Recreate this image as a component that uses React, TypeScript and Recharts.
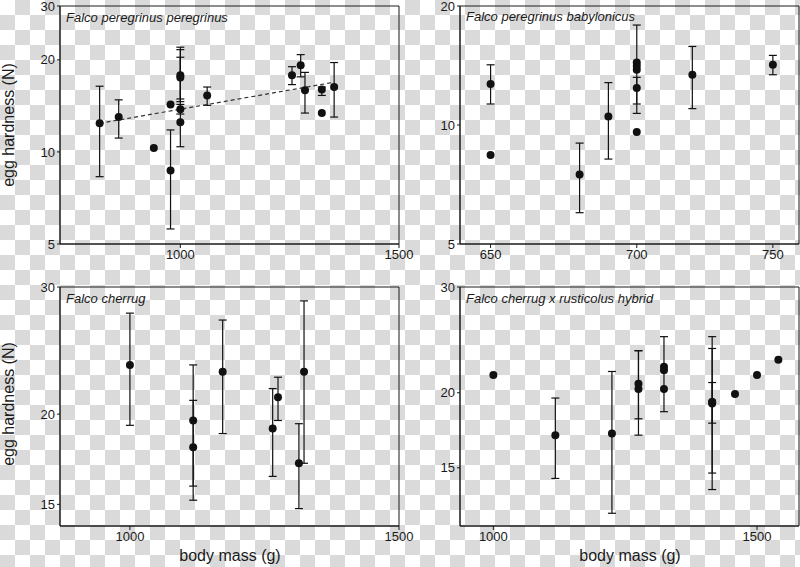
import { ErrorBar, ReferenceArea, Scatter, ScatterChart, XAxis, YAxis } from "recharts";

const font = '"Liberation Sans", Arial, sans-serif';
const ink = "#1a1a1a";

// Falco peregrinus peregrinus
const pereMass = [861, 892, 952, 982, 982, 1000, 1000, 1000, 1000, 1051, 1230, 1250, 1260, 1300, 1300, 1330];
const pereHard = [12.4, 13.0, 10.3, 14.3, 8.7, 17.8, 17.5, 13.8, 12.5, 15.3, 17.8, 19.2, 15.9, 16.0, 13.4, 16.3];
const pereLow = [8.3, 11.1, null, null, 5.6, 14.9, 14.6, 13.3, 10.4, 14.2, 16.6, 17.6, 13.4, 15.3, null, 13.0];
const pereHigh = [16.4, 14.8, null, null, 11.8, 22.0, 21.6, 20.4, 14.3, 16.3, 19.0, 20.8, 18.2, 16.3, null, 19.6];
const pereTrendMass = [861, 1330];
const pereTrendHard = [12.4, 16.9];

// Falco peregrinus babylonicus
const babMass = [650, 650, 680, 690, 700, 700, 700, 700, 700, 720, 750];
const babHard = [12.7, 8.4, 7.5, 10.5, 14.4, 14.1, 13.8, 12.4, 9.6, 13.4, 14.2];
const babLow = [11.3, null, 6.0, 8.2, 10.7, null, null, 11.3, null, 11.0, 13.4];
const babHigh = [14.2, null, 9.0, 12.8, 17.9, null, null, 13.2, null, 15.8, 15.0];

// Falco cherrug
const cherMass = [1000, 1100, 1100, 1150, 1240, 1250, 1290, 1300];
const cherHard = [23.4, 19.6, 18.0, 22.9, 19.1, 21.1, 17.1, 22.9];
const cherLow = [19.3, 15.9, 15.2, 18.8, 16.4, 19.6, 14.8, 17.1];
const cherHigh = [27.6, 23.4, 20.9, 27.0, 21.7, 22.5, 19.4, 28.7];

// Falco cherrug x rusticolus hybrid
const hybMass = [1000, 1100, 1200, 1250, 1250, 1300, 1300, 1300, 1400, 1400, 1400, 1450, 1500, 1550];
const hybHard = [21.4, 17.0, 17.1, 20.7, 20.3, 22.1, 21.8, 20.3, 19.3, 19.2, 19.3, 19.9, 21.4, 22.7];
const hybLow = [null, 14.4, 12.6, 18.1, 17.0, 18.6, null, null, 13.8, 14.7, 17.8, null, null, null];
const hybHigh = [null, 19.6, 21.7, 23.5, 23.5, 24.8, null, null, 24.8, 23.7, 20.8, null, null, null];

type Pt = { x: number; y: number; err?: [number, number] };

function toPoints(mass: number[], hard: number[], low?: (number | null)[], high?: (number | null)[]): Pt[] {
    return mass.map((m, i) => {
        const lo = low ? low[i] : null;
        const hi = high ? high[i] : null;
        return {
            x: m,
            y: hard[i],
            err: lo == null || hi == null ? undefined : [hard[i] - lo, hi - hard[i]],
        };
    });
}

const dot = (p: any) => <circle cx={p.cx} cy={p.cy} r={4} fill="#111" />;
const noDot = () => <g />;

type PanelProps = {
    left: number;
    top: number;
    width: number;
    height: number;
    margin: { top: number; right: number; bottom: number; left: number };
    data: Pt[];
    xDomain: [number, number];
    yDomain: [number, number];
    xTicks: number[];
    yTicks: number[];
    title: string;
    titleTop: number;
    trend?: Pt[];
};

function Panel(props: PanelProps) {
    const { left, top, width, height, margin, data, xDomain, yDomain, xTicks, yTicks, title, titleTop, trend } = props;
    const tick = { fill: ink, fontSize: 13, fontFamily: font };
    return (
        <div style={{ position: "absolute", left, top }}>
            <ScatterChart width={width} height={height} margin={margin}>
                <XAxis
                    type="number"
                    dataKey="x"
                    scale="log"
                    domain={xDomain}
                    ticks={xTicks}
                    interval={0}
                    allowDataOverflow
                    height={20}
                    tickSize={4}
                    tick={tick}
                    stroke={ink}
                />
                <YAxis
                    type="number"
                    dataKey="y"
                    scale="log"
                    domain={yDomain}
                    ticks={yTicks}
                    interval={0}
                    allowDataOverflow
                    width={60}
                    tickSize={3}
                    tick={tick}
                    stroke={ink}
                />
                <ReferenceArea
                    x1={xDomain[0]}
                    x2={xDomain[1]}
                    y1={yDomain[0]}
                    y2={yDomain[1]}
                    fill="none"
                    stroke={ink}
                    strokeWidth={1}
                    ifOverflow="visible"
                />
                {trend && (
                    <Scatter
                        data={trend}
                        shape={noDot}
                        line={{ stroke: "#333", strokeWidth: 1.2, strokeDasharray: "4 3" }}
                        isAnimationActive={false}
                    />
                )}
                <Scatter data={data} shape={dot} isAnimationActive={false}>
                    <ErrorBar dataKey="err" direction="y" width={4} stroke="#111" strokeWidth={1.2} />
                </Scatter>
            </ScatterChart>
            <div
                style={{
                    position: "absolute",
                    left: margin.left + 66,
                    top: titleTop,
                    fontFamily: font,
                    fontStyle: "italic",
                    fontSize: 13,
                    color: ink,
                    whiteSpace: "nowrap",
                }}
            >
                {title}
            </div>
        </div>
    );
}

const checker = "conic-gradient(#dadada 0 25%, #ffffff 0 50%, #dadada 0 75%, #ffffff 0)";

const yTitle = (top: number) => (
    <div
        style={{
            position: "absolute",
            left: 9,
            top,
            transform: "translate(-50%, -50%) rotate(-90deg)",
            fontFamily: font,
            fontSize: 16,
            color: ink,
            whiteSpace: "nowrap",
        }}
    >
        egg hardness (N)
    </div>
);

const xTitle = (left: number) => (
    <div
        style={{
            position: "absolute",
            left,
            top: 556,
            transform: "translate(-50%, -50%)",
            fontFamily: font,
            fontSize: 16,
            color: ink,
            whiteSpace: "nowrap",
        }}
    >
        body mass (g)
    </div>
);

export default function App() {
    return (
        <div
            style={{
                position: "absolute",
                left: 0,
                top: 0,
                width: 800,
                height: 567,
                overflow: "hidden",
                backgroundImage: checker,
                backgroundSize: "30px 30px",
            }}
        >
            <Panel
                left={0}
                top={0}
                width={420}
                height={270}
                margin={{ top: 6, right: 21, bottom: 6, left: 0 }}
                data={toPoints(pereMass, pereHard, pereLow, pereHigh)}
                trend={toPoints(pereTrendMass, pereTrendHard)}
                xDomain={[800, 1500]}
                yDomain={[5, 30]}
                xTicks={[1000, 1500]}
                yTicks={[5, 10, 20, 30]}
                title="Falco peregrinus peregrinus"
                titleTop={10}
            />
            <Panel
                left={400}
                top={0}
                width={400}
                height={270}
                margin={{ top: 6, right: 1, bottom: 6, left: 0 }}
                data={toPoints(babMass, babHard, babLow, babHigh)}
                xDomain={[640, 760]}
                yDomain={[5, 20]}
                xTicks={[650, 700, 750]}
                yTicks={[5, 10, 20]}
                title="Falco peregrinus babylonicus"
                titleTop={9}
            />
            <Panel
                left={0}
                top={270}
                width={420}
                height={297}
                margin={{ top: 17, right: 21, bottom: 21, left: 0 }}
                data={toPoints(cherMass, cherHard, cherLow, cherHigh)}
                xDomain={[900, 1500]}
                yDomain={[14, 30]}
                xTicks={[1000, 1500]}
                yTicks={[15, 20, 30]}
                title="Falco cherrug"
                titleTop={21}
            />
            <Panel
                left={400}
                top={270}
                width={400}
                height={297}
                margin={{ top: 17, right: 1, bottom: 21, left: 0 }}
                data={toPoints(hybMass, hybHard, hybLow, hybHigh)}
                xDomain={[950, 1600]}
                yDomain={[12, 30]}
                xTicks={[1000, 1500]}
                yTicks={[15, 20, 30]}
                title="Falco cherrug x rusticolus hybrid"
                titleTop={21}
            />
            {yTitle(125)}
            {yTitle(404)}
            {xTitle(230)}
            {xTitle(630)}
        </div>
    );
}
